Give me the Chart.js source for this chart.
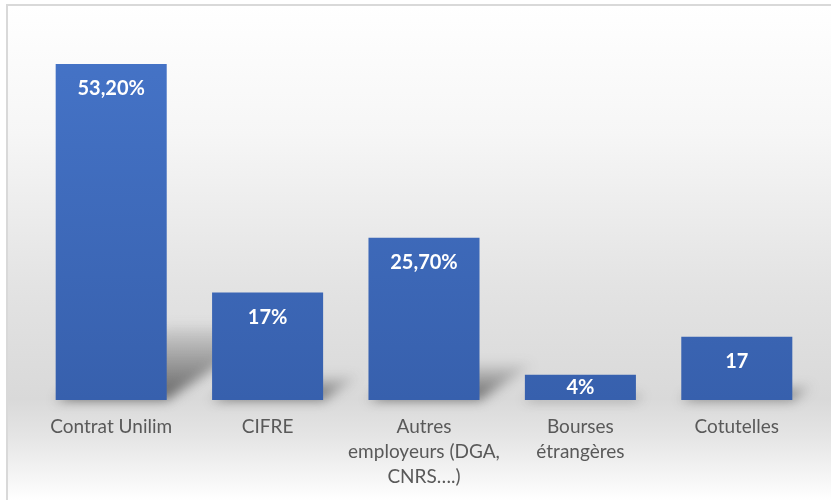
<!DOCTYPE html>
<html>
<head>
<meta charset="utf-8">
<script src="https://cdn.jsdelivr.net/npm/chart.js@4.4.1/dist/chart.umd.min.js"></script>
<style>
    html, body { margin: 0; padding: 0; background: #ffffff; }
    #frame {
        position: absolute; left: 6px; top: 4px; width: 840px; height: 510px;
        border-left: 2px solid #d9d9d9; border-top: 2px solid #d9d9d9;
        background: linear-gradient(to bottom, #ffffff 0%, #f6f6f6 25%, #e3e3e3 55%, #d9d9d9 77%, #e4e4e4 84%, #ffffff 97%);
    }
    #wrap { position: absolute; left: 0; top: 0; width: 831px; height: 500px; }
</style>
</head>
<body>
<div id="frame"></div>
<div id="wrap"><canvas id="chart" width="831" height="500"></canvas></div>
<script>
// Données
const categories = [
    'Contrat Unilim',
    'CIFRE',
    ['Autres', 'employeurs (DGA,', 'CNRS….)'],
    ['Bourses', 'étrangères'],
    'Cotutelles'
];
const values = [53.2, 17, 25.7, 4, 10];
const valueLabels = ['53,20%', '17%', '25,70%', '4%', '17'];

// Ombre en perspective derrière chaque barre
const shadowPlugin = {
    id: 'barShadow',
    beforeDatasetsDraw(chart) {
        const ctx = chart.ctx;
        const meta = chart.getDatasetMeta(0);
        ctx.save();
        ctx.filter = 'blur(6px)';
        meta.data.forEach((bar) => {
            const h = bar.base - bar.y;
            const left = bar.x - bar.width / 2;
            const right = bar.x + bar.width / 2;
            const dx = h * 0.33;
            const dy = h * 0.22;
            const g = ctx.createLinearGradient(0, bar.base, 0, bar.base - dy);
            g.addColorStop(0, 'rgba(60,60,60,0.75)');
            g.addColorStop(1, 'rgba(60,60,60,0.08)');
            ctx.fillStyle = g;
            ctx.beginPath();
            ctx.moveTo(left, bar.base);
            ctx.lineTo(right, bar.base);
            ctx.lineTo(right + dx, bar.base - dy);
            ctx.lineTo(left + dx, bar.base - dy);
            ctx.closePath();
            ctx.fill();
        });
        ctx.restore();
    }
};

// Étiquettes de valeur à l'intérieur des barres
const valueLabelPlugin = {
    id: 'valueLabels',
    afterDatasetsDraw(chart) {
        const ctx = chart.ctx;
        const meta = chart.getDatasetMeta(0);
        ctx.save();
        ctx.fillStyle = '#ffffff';
        ctx.font = 'bold 20px Lato, sans-serif';
        ctx.textAlign = 'center';
        ctx.textBaseline = 'middle';
        meta.data.forEach((bar, i) => {
            const y = Math.min(bar.y + 25, (bar.y + bar.base) / 2);
            ctx.fillText(valueLabels[i], bar.x, y);
        });
        ctx.restore();
    }
};

const ctx = document.getElementById('chart');
new Chart(ctx, {
    type: 'bar',
    data: {
        labels: categories,
        datasets: [{
            data: values,
            backgroundColor: (c) => {
                const area = c.chart.chartArea;
                if (!area) return '#4472c4';
                const g = c.chart.ctx.createLinearGradient(0, area.top, 0, area.bottom);
                g.addColorStop(0, '#4675c9');
                g.addColorStop(1, '#3760ad');
                return g;
            },
            borderWidth: 0,
            categoryPercentage: 1,
            barPercentage: 0.71
        }]
    },
    options: {
        responsive: false,
        animation: false,
        events: [],
        layout: { padding: { left: 33, right: 16, top: 21, bottom: 10 } },
        plugins: {
            legend: { display: false },
            tooltip: { enabled: false }
        },
        scales: {
            y: {
                display: false,
                min: 0,
                max: 60
            },
            x: {
                grid: { display: false, drawTicks: false },
                border: { display: false },
                afterFit(scale) { scale.height = 90; },
                ticks: {
                    color: '#595959',
                    font: { family: 'Lato, sans-serif', size: 19, lineHeight: 1.32 },
                    padding: 14,
                    maxRotation: 0,
                    autoSkip: false
                }
            }
        }
    },
    plugins: [shadowPlugin, valueLabelPlugin]
});
</script>
</body>
</html>
